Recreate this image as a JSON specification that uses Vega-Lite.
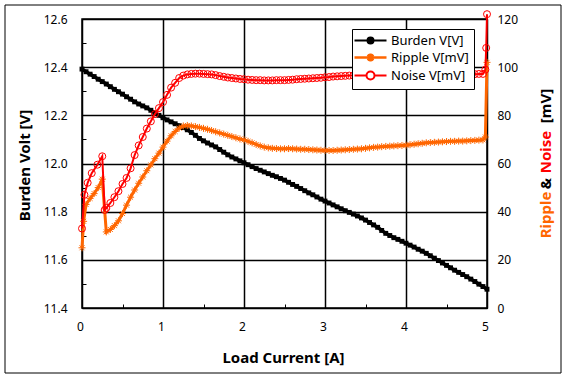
{
  "$schema": "https://vega.github.io/schema/vega-lite/v6.json",
  "width": 405,
  "height": 289,
  "autosize": "none",
  "padding": {"left": 82, "top": 19, "right": 81, "bottom": 72},
  "background": "white",
  "datasets": {
    "burden": [
      {"I":0,"v":12.392},{"I":0.05,"v":12.381},{"I":0.1,"v":12.371},{"I":0.15,"v":12.361},{"I":0.2,"v":12.35},{"I":0.25,"v":12.34},{"I":0.3,"v":12.33},{"I":0.35,"v":12.319},{"I":0.4,"v":12.308},{"I":0.45,"v":12.298},
      {"I":0.5,"v":12.288},{"I":0.55,"v":12.277},{"I":0.6,"v":12.267},{"I":0.65,"v":12.256},{"I":0.7,"v":12.247},{"I":0.75,"v":12.239},{"I":0.8,"v":12.231},{"I":0.85,"v":12.221},{"I":0.9,"v":12.21},{"I":0.95,"v":12.2},
      {"I":1,"v":12.19},{"I":1.05,"v":12.181},{"I":1.1,"v":12.173},{"I":1.15,"v":12.165},{"I":1.2,"v":12.157},{"I":1.25,"v":12.149},{"I":1.3,"v":12.14},{"I":1.35,"v":12.129},{"I":1.4,"v":12.117},{"I":1.45,"v":12.104},
      {"I":1.5,"v":12.094},{"I":1.55,"v":12.085},{"I":1.6,"v":12.077},{"I":1.65,"v":12.069},{"I":1.7,"v":12.058},{"I":1.75,"v":12.047},{"I":1.8,"v":12.036},{"I":1.85,"v":12.027},{"I":1.9,"v":12.019},{"I":1.95,"v":12.011},
      {"I":2,"v":12.003},{"I":2.05,"v":11.995},{"I":2.1,"v":11.987},{"I":2.15,"v":11.979},{"I":2.2,"v":11.972},{"I":2.25,"v":11.965},{"I":2.3,"v":11.958},{"I":2.35,"v":11.951},{"I":2.4,"v":11.945},{"I":2.45,"v":11.938},
      {"I":2.5,"v":11.931},{"I":2.55,"v":11.922},{"I":2.6,"v":11.913},{"I":2.65,"v":11.905},{"I":2.7,"v":11.896},{"I":2.75,"v":11.887},{"I":2.8,"v":11.878},{"I":2.85,"v":11.87},{"I":2.9,"v":11.861},{"I":2.95,"v":11.852},
      {"I":3,"v":11.844},{"I":3.05,"v":11.836},{"I":3.1,"v":11.828},{"I":3.15,"v":11.82},{"I":3.2,"v":11.812},{"I":3.25,"v":11.804},{"I":3.3,"v":11.797},{"I":3.35,"v":11.79},{"I":3.4,"v":11.782},{"I":3.45,"v":11.774},
      {"I":3.5,"v":11.765},{"I":3.55,"v":11.755},{"I":3.6,"v":11.745},{"I":3.65,"v":11.735},{"I":3.7,"v":11.722},{"I":3.75,"v":11.71},{"I":3.8,"v":11.701},{"I":3.85,"v":11.692},{"I":3.9,"v":11.685},{"I":3.95,"v":11.677},
      {"I":4,"v":11.669},{"I":4.05,"v":11.661},{"I":4.1,"v":11.653},{"I":4.15,"v":11.644},{"I":4.2,"v":11.636},{"I":4.25,"v":11.627},{"I":4.3,"v":11.617},{"I":4.35,"v":11.607},{"I":4.4,"v":11.597},{"I":4.45,"v":11.587},
      {"I":4.5,"v":11.577},{"I":4.55,"v":11.567},{"I":4.6,"v":11.557},{"I":4.65,"v":11.548},{"I":4.7,"v":11.539},{"I":4.75,"v":11.53},{"I":4.8,"v":11.52},{"I":4.85,"v":11.51},{"I":4.9,"v":11.499},{"I":4.95,"v":11.489},
      {"I":5,"v":11.478}
    ],
    "ripple": [
      {"I":0,"v":25},{"I":0.02,"v":36},{"I":0.05,"v":43},{"I":0.1,"v":45.5},{"I":0.15,"v":47.5},{"I":0.2,"v":50},{"I":0.25,"v":53.5},{"I":0.3,"v":31.6},{"I":0.35,"v":32.6},{"I":0.4,"v":34.2},{"I":0.45,"v":36.2},
      {"I":0.5,"v":39.2},{"I":0.55,"v":42.7},{"I":0.6,"v":46},{"I":0.65,"v":49},{"I":0.7,"v":51.8},{"I":0.75,"v":54.4},{"I":0.8,"v":57},{"I":0.85,"v":59.4},{"I":0.9,"v":62},{"I":0.95,"v":64.3},
      {"I":1,"v":66.8},{"I":1.05,"v":69.3},{"I":1.1,"v":71.5},{"I":1.15,"v":73.3},{"I":1.2,"v":74.7},{"I":1.25,"v":75.6},{"I":1.3,"v":75.8},{"I":1.35,"v":75.6},{"I":1.4,"v":75.3},{"I":1.45,"v":75},
      {"I":1.5,"v":74.6},{"I":1.55,"v":74.2},{"I":1.6,"v":73.7},{"I":1.65,"v":73.2},{"I":1.7,"v":72.7},{"I":1.75,"v":72.2},{"I":1.8,"v":71.7},{"I":1.85,"v":71.2},{"I":1.9,"v":70.7},{"I":1.95,"v":70.2},
      {"I":2,"v":69.8},{"I":2.05,"v":69.2},{"I":2.1,"v":68.6},{"I":2.15,"v":67.9},{"I":2.2,"v":67.3},{"I":2.25,"v":66.8},{"I":2.3,"v":66.5},{"I":2.35,"v":66.3},{"I":2.4,"v":66.2},{"I":2.45,"v":66.1},
      {"I":2.5,"v":66.1},{"I":2.55,"v":66.2},{"I":2.6,"v":66.1},{"I":2.65,"v":66},{"I":2.7,"v":65.9},{"I":2.75,"v":65.9},{"I":2.8,"v":65.8},{"I":2.85,"v":65.7},{"I":2.9,"v":65.6},{"I":2.95,"v":65.5},
      {"I":3,"v":65.4},{"I":3.05,"v":65.4},{"I":3.1,"v":65.4},{"I":3.15,"v":65.5},{"I":3.2,"v":65.6},{"I":3.25,"v":65.7},{"I":3.3,"v":65.8},{"I":3.35,"v":65.9},{"I":3.4,"v":66},{"I":3.45,"v":66.1},
      {"I":3.5,"v":66.3},{"I":3.55,"v":66.5},{"I":3.6,"v":66.7},{"I":3.65,"v":66.8},{"I":3.7,"v":67},{"I":3.75,"v":67.1},{"I":3.8,"v":67.2},{"I":3.85,"v":67.3},{"I":3.9,"v":67.4},{"I":3.95,"v":67.5},
      {"I":4,"v":67.6},{"I":4.05,"v":67.8},{"I":4.1,"v":68},{"I":4.15,"v":68.2},{"I":4.2,"v":68.4},{"I":4.25,"v":68.6},{"I":4.3,"v":68.7},{"I":4.35,"v":68.8},{"I":4.4,"v":68.9},{"I":4.45,"v":69},
      {"I":4.5,"v":69.1},{"I":4.55,"v":69.2},{"I":4.6,"v":69.2},{"I":4.65,"v":69.3},{"I":4.7,"v":69.3},{"I":4.75,"v":69.4},{"I":4.8,"v":69.5},{"I":4.85,"v":69.6},{"I":4.9,"v":69.7},{"I":4.95,"v":69.8},
      {"I":4.98,"v":71},{"I":5,"v":102}
    ],
    "noise": [
      {"I":0,"v":33},{"I":0.03,"v":47},{"I":0.07,"v":52},{"I":0.12,"v":56},{"I":0.19,"v":59.5},{"I":0.25,"v":63},{"I":0.28,"v":40.7},{"I":0.3,"v":41.5},{"I":0.35,"v":43.6},{"I":0.4,"v":46},{"I":0.45,"v":48.5},
      {"I":0.5,"v":51.5},{"I":0.55,"v":54},{"I":0.6,"v":58},{"I":0.65,"v":63.5},{"I":0.7,"v":67.5},{"I":0.75,"v":71},{"I":0.8,"v":74.5},{"I":0.85,"v":77.5},{"I":0.9,"v":80.5},{"I":0.95,"v":83},
      {"I":1,"v":85.5},{"I":1.05,"v":88.5},{"I":1.1,"v":91.5},{"I":1.15,"v":93.5},{"I":1.2,"v":95.5},{"I":1.25,"v":96.5},{"I":1.3,"v":97},{"I":1.35,"v":97.2},{"I":1.4,"v":97.3},{"I":1.45,"v":97.3},
      {"I":1.5,"v":97.2},{"I":1.55,"v":97.1},{"I":1.6,"v":97},{"I":1.65,"v":96.7},{"I":1.7,"v":96.3},{"I":1.75,"v":96},{"I":1.8,"v":95.7},{"I":1.85,"v":95.5},{"I":1.9,"v":95.3},{"I":1.95,"v":95.1},
      {"I":2,"v":95},{"I":2.05,"v":94.8},{"I":2.1,"v":94.7},{"I":2.15,"v":94.6},{"I":2.2,"v":94.6},{"I":2.25,"v":94.5},{"I":2.3,"v":94.5},{"I":2.35,"v":94.5},{"I":2.4,"v":94.6},{"I":2.45,"v":94.6},
      {"I":2.5,"v":94.6},{"I":2.55,"v":94.7},{"I":2.6,"v":94.8},{"I":2.65,"v":95},{"I":2.7,"v":95.1},{"I":2.75,"v":95.2},{"I":2.8,"v":95.3},{"I":2.85,"v":95.4},{"I":2.9,"v":95.5},{"I":2.95,"v":95.6},
      {"I":3,"v":95.8},{"I":3.05,"v":95.9},{"I":3.1,"v":96.1},{"I":3.15,"v":96.2},{"I":3.2,"v":96.3},{"I":3.25,"v":96.4},{"I":3.3,"v":96.5},{"I":3.35,"v":96.5},{"I":3.4,"v":96.6},{"I":3.45,"v":96.6},
      {"I":3.5,"v":96.6},{"I":3.55,"v":96.6},{"I":3.6,"v":96.7},{"I":3.65,"v":96.7},{"I":3.7,"v":96.7},{"I":3.75,"v":96.7},{"I":3.8,"v":96.8},{"I":3.85,"v":96.8},{"I":3.9,"v":96.8},{"I":3.95,"v":96.8},
      {"I":4,"v":96.8},{"I":4.05,"v":96.8},{"I":4.1,"v":96.9},{"I":4.15,"v":96.9},{"I":4.2,"v":96.9},{"I":4.25,"v":96.9},{"I":4.3,"v":96.9},{"I":4.35,"v":96.9},{"I":4.4,"v":97},{"I":4.45,"v":97},
      {"I":4.5,"v":97},{"I":4.55,"v":97},{"I":4.6,"v":97},{"I":4.65,"v":97},{"I":4.7,"v":97},{"I":4.75,"v":97.1},{"I":4.8,"v":97.1},{"I":4.85,"v":97.1},{"I":4.9,"v":97.2},{"I":4.95,"v":97.2},
      {"I":4.98,"v":99},{"I":4.99,"v":108},{"I":5,"v":122}
    ]
  },
  "encoding": {
    "x": {
      "field": "I", "type": "quantitative",
      "scale": {"domain": [0, 5], "nice": false, "zero": false},
      "axis": {
        "title": "Load Current [A]",
        "values": [0, 0.5, 1, 1.5, 2, 2.5, 3, 3.5, 4, 4.5, 5],
        "labelExpr": "datum.value % 1 === 0 ? format(datum.value, 'd') : ''",
        "labelFlush": false,
        "labelOverlap": false,
        "labelPadding": 17,
        "labelOffset": -2,
        "tickSize": -4,
        "grid": true,
        "gridOpacity": {"condition": {"test": "datum.value % 1 !== 0", "value": 0}, "value": 1},
        "titleX": 201,
        "titleY": 49,
        "titleAngle": 0
      }
    }
  },
  "layer": [
    {
      "data": {"values": []},
      "mark": {"type": "point", "opacity": 0},
      "encoding": {
        "fill": {
          "field": "frame", "type": "quantitative",
          "scale": {"domain": [0, 1], "range": ["transparent", "transparent"]},
          "legend": {
            "type": "gradient",
            "orient": "none",
            "direction": "vertical",
            "legendX": -77,
            "legendY": -14,
            "title": null,
            "padding": 0,
            "gradientLength": 368,
            "gradientThickness": 556,
            "gradientStrokeColor": "black",
            "gradientStrokeWidth": 1,
            "gradientOpacity": 1,
            "labelOpacity": 0,
            "labelExpr": "''"
          }
        }
      }
    },
    {
      "data": {"name": "burden"},
      "mark": {"type": "line", "strokeWidth": 3.5},
      "encoding": {
        "y": {
          "field": "v", "type": "quantitative",
          "scale": {"domain": [11.4, 12.6], "nice": false, "zero": false},
          "axis": {
            "orient": "left",
            "title": "Burden Volt [V]",
            "values": [11.4, 11.5, 11.6, 11.7, 11.8, 11.9, 12.0, 12.1, 12.2, 12.3, 12.4, 12.5, 12.6],
            "labelExpr": "round(datum.value * 10) % 2 == 1 ? '' : format(datum.value, '.1f')",
            "labelOverlap": false,
            "labelPadding": 19,
            "tickSize": -4,
            "grid": true,
            "gridOpacity": {"condition": {"test": "round(datum.value * 10) % 2 == 1", "value": 0}, "value": 1},
            "titleX": -57.5,
            "titleY": 146,
            "titleAngle": -90
          }
        },
        "color": {
          "datum": "Burden V[V]", "type": "nominal",
          "scale": {"domain": ["Burden V[V]", "Ripple V[mV]", "Noise V[mV]"], "range": ["#000000", "#ff6600", "#ff0000"]},
          "legend": {
            "orient": "none",
            "legendX": 270,
            "legendY": 10,
            "title": null,
            "fillColor": "white",
            "strokeColor": "black",
            "padding": 5,
            "symbolSize": 100,
            "labelOffset": 21,
            "rowPadding": 0,
            "labelFont": "Noto Sans",
            "labelFontSize": 13,
            "labelColor": "black",
            "labelLimit": 0,
            "encode": {
              "symbols": {
                "update": {
                  "shape": {"signal": "datum.value === 'Burden V[V]' ? 'M-1.8,0L4.6,0M0.8,0A0.6,0.6,0,1,1,2,0A0.6,0.6,0,1,1,0.8,0Z' : datum.value === 'Ripple V[mV]' ? 'M-1.8,0L4.6,0M1.4,-0.8L1.4,0.8M0.83,-0.57L1.97,0.57M0.83,0.57L1.97,-0.57' : 'M-1.8,0L0.6,0M2.2,0L4.6,0M0.6,0A0.8,0.8,0,1,1,2.2,0A0.8,0.8,0,1,1,0.6,0Z'"},
                  "fill": {"signal": "datum.value === 'Burden V[V]' ? '#000000' : datum.value === 'Noise V[mV]' ? '#ffffff' : 'transparent'"},
                  "stroke": {"signal": "datum.value === 'Burden V[V]' ? '#000000' : datum.value === 'Ripple V[mV]' ? '#ff6600' : '#ff0000'"},
                  "strokeWidth": {"signal": "datum.value === 'Ripple V[mV]' ? 2.5 : 2"},
                  "opacity": {"value": 1},
                  "fillOpacity": {"value": 1},
                  "strokeOpacity": {"value": 1}
                }
              }
            }
          }
        }
      }
    },
    {
      "data": {"name": "burden"},
      "mark": {"type": "point", "shape": "square", "filled": true, "color": "#000000", "size": 24, "opacity": 1},
      "encoding": {
        "y": {"field": "v", "type": "quantitative", "scale": {"domain": [11.4, 12.6], "nice": false, "zero": false}, "axis": null}
      }
    },
    {
      "data": {"name": "ripple"},
      "mark": {"type": "line", "strokeWidth": 3},
      "encoding": {
        "y": {
          "field": "v", "type": "quantitative",
          "scale": {"domain": [0, 120], "nice": false},
          "axis": {
            "orient": "right",
            "title": "Ripple",
            "titleColor": "#ff6600",
            "values": [0, 20, 40, 60, 80, 100, 120],
            "labelOverlap": false,
            "labelPadding": 14,
            "tickSize": -4,
            "grid": false,
            "titleX": 58,
            "titleY": 195.5,
            "titleAngle": -90
          }
        },
        "color": {"datum": "Ripple V[mV]", "type": "nominal"}
      }
    },
    {
      "data": {"name": "ripple"},
      "mark": {"type": "point", "shape": "M-1,0L1,0M0,-1L0,1M-0.7,-0.7L0.7,0.7M-0.7,0.7L0.7,-0.7", "filled": false, "color": "#ff6600", "size": 49, "strokeWidth": 1, "opacity": 1},
      "encoding": {
        "y": {
          "field": "v", "type": "quantitative",
          "scale": {"domain": [0, 120], "nice": false},
          "axis": {"orient": "right", "title": "&", "titleColor": "black", "labels": false, "ticks": false, "grid": false, "titleX": 58, "titleY": 164, "titleAngle": -90}
        }
      }
    },
    {
      "data": {"name": "noise"},
      "mark": {"type": "line", "strokeWidth": 2},
      "encoding": {
        "y": {
          "field": "v", "type": "quantitative",
          "scale": {"domain": [0, 120], "nice": false},
          "axis": {"orient": "right", "title": "Noise", "titleColor": "#ff0000", "labels": false, "ticks": false, "grid": false, "titleX": 58, "titleY": 132.5, "titleAngle": -90}
        },
        "color": {"datum": "Noise V[mV]", "type": "nominal"}
      }
    },
    {
      "data": {"name": "noise"},
      "mark": {"type": "point", "shape": "circle", "filled": false, "color": "#ff0000", "size": 49, "strokeWidth": 1, "opacity": 1},
      "encoding": {
        "y": {
          "field": "v", "type": "quantitative",
          "scale": {"domain": [0, 120], "nice": false},
          "axis": {"orient": "right", "title": "[mV]", "titleColor": "black", "labels": false, "ticks": false, "grid": false, "titleX": 58, "titleY": 86.5, "titleAngle": -90}
        }
      }
    }
  ],
  "resolve": {"scale": {"y": "independent"}, "axis": {"y": "independent"}},
  "config": {
    "view": {"stroke": "black", "strokeWidth": 1.5},
    "font": "Noto Sans",
    "axis": {
      "labelFont": "Noto Sans",
      "labelFontSize": 12,
      "labelColor": "black",
      "titleFont": "Noto Sans",
      "titleFontSize": 15,
      "titleFontWeight": "bold",
      "titleColor": "black",
      "titleAlign": "center",
      "titleBaseline": "middle",
      "domain": false,
      "tickColor": "black",
      "tickWidth": 1,
      "gridColor": "black",
      "gridWidth": 1.5
    }
  }
}
